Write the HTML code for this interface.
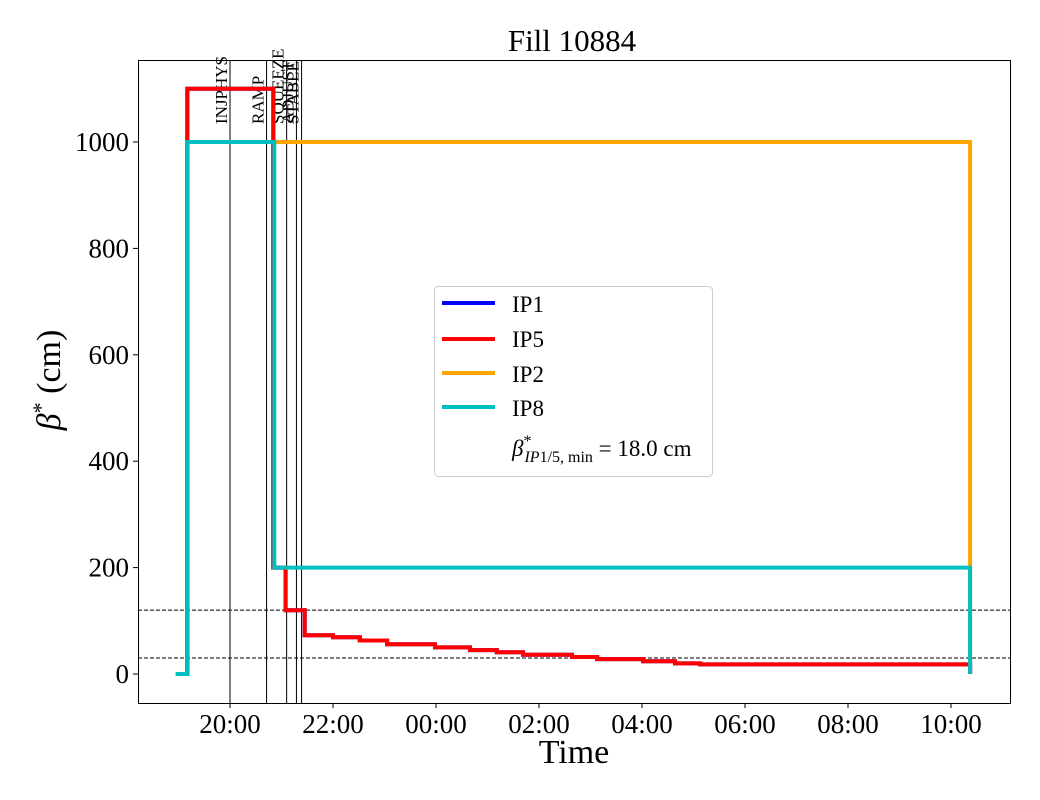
<!DOCTYPE html>
<html><head><meta charset="utf-8"><style>
body{margin:0;background:#fff}
svg{display:block;font-family:"Liberation Serif",serif}
</style></head><body>
<svg id="chart" width="1040" height="800">
<rect x="0" y="0" width="1040" height="800" fill="#fff"/>
<text x="572" y="51" font-size="31" text-anchor="middle">Fill 10884</text>
<g id="plot"></g>
<text x="574" y="763" font-size="34" text-anchor="middle">Time</text>
<text transform="translate(60,380) rotate(-90)" font-size="34" text-anchor="middle"><tspan font-style="italic">β</tspan><tspan baseline-shift="super" font-size="22">*</tspan> (cm)</text>
<g>
<rect x="434.5" y="286.5" width="278" height="190" rx="4" fill="#fff" stroke="#ccc"/>
<line x1="442" y1="303" x2="495" y2="303" stroke="#0000ff" stroke-width="4"/>
<text x="512" y="312" font-size="23">IP1</text>
<line x1="442" y1="339" x2="495" y2="339" stroke="#ff0000" stroke-width="4"/>
<text x="512" y="347" font-size="23">IP5</text>
<line x1="442" y1="373" x2="495" y2="373" stroke="#ffa500" stroke-width="4"/>
<text x="512" y="382" font-size="23">IP2</text>
<line x1="442" y1="407" x2="495" y2="407" stroke="#00bfbf" stroke-width="4"/>
<text x="512" y="416" font-size="23">IP8</text>
<text x="512" y="456" font-size="23"><tspan font-style="italic">β</tspan><tspan dy="-10" font-size="16">*</tspan><tspan dx="-7" dy="16" font-size="16"><tspan font-style="italic">IP</tspan>1/5, min</tspan><tspan dy="-6"> = 18.0 cm</tspan></text>
</g>
</svg>
<script>
// data: time in hours since 00:00 of first day (values >24 are next day); step-post
const ip15Times = [18.95,19.17,20.84,21.08,21.45,22.0,22.52,23.05,23.98,24.66,25.18,25.69,26.64,27.13,28.02,28.64,29.13,34.37];
const ip15Values = [0,1100,200,120,73,69,63,56,50,45,41,36,32,28,24,20,18,0];
const ip2Times = [18.95,19.17,34.37];
const ip2Values = [0,1000,0];
const ip8Times = [18.95,19.17,20.86,34.37];
const ip8Values = [0,1000,200,0];
const modeNames = ["INJPHYS","RAMP","SQUEEZE","ADJUST","STABLE"];
const modeTimes = [20.0,20.71,21.1,21.29,21.39];
const refLines = [120,30];
const yTicks = [0,200,400,600,800,1000];
const xTicks = [20,22,24,26,28,30,32,34];
const xTickLabels = ["20:00","22:00","00:00","02:00","04:00","06:00","08:00","10:00"];

const L=138,R=1010,T=60,B=703;
const xs=h=>230+(h-20)*51.5;
const ys=v=>674-v*0.532;
const NS="http://www.w3.org/2000/svg";
const g=document.getElementById('plot');
function mk(tag,attrs,parent){const e=document.createElementNS(NS,tag);for(const k in attrs)e.setAttribute(k,attrs[k]);(parent||g).appendChild(e);return e;}
function stepPath(t,v){let d='M'+xs(t[0]).toFixed(1)+','+ys(v[0]).toFixed(1);
for(let i=1;i<t.length;i++){d+='L'+xs(t[i]).toFixed(1)+','+ys(v[i-1]).toFixed(1)+'L'+xs(t[i]).toFixed(1)+','+ys(v[i]).toFixed(1);}return d;}

refLines.forEach(v=>{const l=mk('line',{x1:L,x2:R,y1:ys(v),y2:ys(v),stroke:'#000','stroke-width':1,'stroke-dasharray':'4,2'});

});

modeTimes.forEach((t,i)=>{const l=mk('line',{x1:xs(t),x2:xs(t),y1:T,y2:B,stroke:'#000','stroke-width':1});


const tx=mk('text',{transform:`translate(${xs(t)-3},124) rotate(-90)`,'font-size':17});
tx.textContent=modeNames[i];

});

const series=[["ip2",ip2Times,ip2Values,"#ffa500"],["ip1",ip15Times,ip15Values,"#0000ff"],["ip5",ip15Times,ip15Values,"#ff0000"],["ip8",ip8Times,ip8Values,"#00bfbf"]];
series.forEach(s=>{const p=mk('path',{d:stepPath(s[1],s[2]),fill:'none',stroke:s[3],'stroke-width':4,'stroke-linejoin':'miter'});

});

const frame=mk('rect',{x:L+.5,y:T+.5,width:R-L,height:B-T,fill:'none',stroke:'#000','stroke-width':1});



yTicks.forEach(v=>{mk('line',{x1:L-5,x2:L,y1:ys(v),y2:ys(v),stroke:'#000'});
const t=mk('text',{x:L-9,y:ys(v)+9,'font-size':27,'text-anchor':'end'});t.textContent=v;

});
xTicks.forEach((h,i)=>{mk('line',{x1:xs(h),x2:xs(h),y1:B,y2:B+5,stroke:'#000'});
const t=mk('text',{x:xs(h),y:B+30,'font-size':27,'text-anchor':'middle'});t.textContent=xTickLabels[i];

});
</script>
</body></html>
